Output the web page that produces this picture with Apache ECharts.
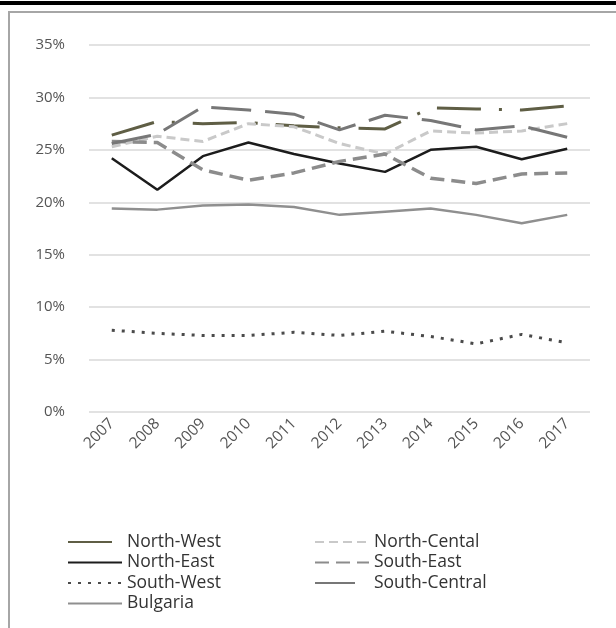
<!DOCTYPE html>
<html>
<head>
<meta charset="utf-8">
<script src="https://cdn.jsdelivr.net/npm/echarts@6/dist/echarts.min.js"></script>
<style>
  html, body { margin: 0; padding: 0; background: #fff; }
  #chart { width: 616px; height: 628px; }
</style>
</head>
<body>
<div id="chart"></div>
<script>
// years on the x axis
var years = ["2007", "2008", "2009", "2010", "2011", "2012", "2013", "2014", "2015", "2016", "2017"];

// shares in percent
var northWest = [26.4, 27.7, 27.5, 27.6, 27.3, 27.1, 27.0, 29.0, 28.9, 28.8, 29.2];
var northCental = [25.3, 26.3, 25.8, 27.5, 27.2, 25.6, 24.6, 26.8, 26.6, 26.8, 27.5];
var northEast = [24.2, 21.2, 24.4, 25.7, 24.6, 23.7, 22.9, 25.0, 25.3, 24.1, 25.1];
var southEast = [25.8, 25.7, 23.1, 22.1, 22.8, 23.9, 24.6, 22.3, 21.8, 22.7, 22.8];
var southWest = [7.8, 7.5, 7.3, 7.3, 7.6, 7.3, 7.7, 7.2, 6.5, 7.4, 6.6];
var southCentral = [25.6, 26.5, 29.1, 28.8, 28.4, 26.9, 28.3, 27.8, 26.9, 27.3, 26.2];
var bulgaria = [19.4, 19.3, 19.7, 19.8, 19.55, 18.8, 19.1, 19.4, 18.8, 18.0, 18.8];

var font = "'Open Sans', sans-serif";

function lineSeries(name, data, color, width, type) {
  return {
    name: name,
    type: "line",
    data: data,
    symbol: "none",
    animation: false,
    lineStyle: { color: color, width: width, type: type, cap: "butt" },
    itemStyle: { color: color },
  };
}

var legendText = { color: "#333", fontSize: 17.5, lineHeight: 18, fontFamily: font };

window.onload = function () {
  var myChart = echarts.init(document.getElementById("chart"));
  var option = {
    backgroundColor: "#fff",
    graphic: [
      { type: "rect", shape: { x: 0, y: 1, width: 616, height: 4 }, style: { fill: "#000" } },
      {
        type: "rect",
        shape: { x: 9, y: 12, width: 620, height: 630 },
        style: { fill: "none", stroke: "#a6a6a6", lineWidth: 2 },
      },
    ],
    grid: { left: 89, right: 26, top: 45, bottom: 216 },
    xAxis: {
      type: "category",
      data: years,
      boundaryGap: true,
      axisLine: { show: false },
      axisTick: { show: false },
      axisLabel: { rotate: 45, margin: 9, color: "#555", fontSize: 15.5, fontFamily: font },
    },
    yAxis: {
      type: "value",
      min: 0,
      max: 35,
      interval: 5,
      axisLine: { show: false },
      axisTick: { show: false },
      axisLabel: { formatter: "{value}%", margin: 24, color: "#555", fontSize: 15, fontFamily: font },
      splitLine: { lineStyle: { color: "#d9d9d9", width: 1.5 } },
    },
    legend: [
      {
        orient: "vertical",
        left: 62,
        top: 528,
        itemWidth: 54,
        itemHeight: 12,
        itemGap: 2.5,
        itemStyle: { opacity: 0 },
        data: ["North-West", "North-East", "South-West", "Bulgaria"],
        textStyle: legendText,
      },
      {
        orient: "vertical",
        left: 309,
        top: 528,
        itemWidth: 54,
        itemHeight: 12,
        itemGap: 2.5,
        itemStyle: { opacity: 0 },
        data: ["North-Cental", "South-East", "South-Central"],
        textStyle: legendText,
      },
    ],
    series: [
      lineSeries("North-West", northWest, "#5f5e45", 3, [44, 18, 3, 18]),
      lineSeries("North-Cental", northCental, "#c9c9c9", 3, [9, 5]),
      lineSeries("North-East", northEast, "#1c1c1c", 2.5, "solid"),
      lineSeries("South-East", southEast, "#8c8c8c", 3.5, [14, 7]),
      lineSeries("South-West", southWest, "#4a4a4a", 3, [3, 7]),
      lineSeries("South-Central", southCentral, "#777777", 3, [40, 14]),
      lineSeries("Bulgaria", bulgaria, "#8f8f8f", 2.5, "solid"),
    ],
  };
  myChart.setOption(option);
};
</script>
</body>
</html>
